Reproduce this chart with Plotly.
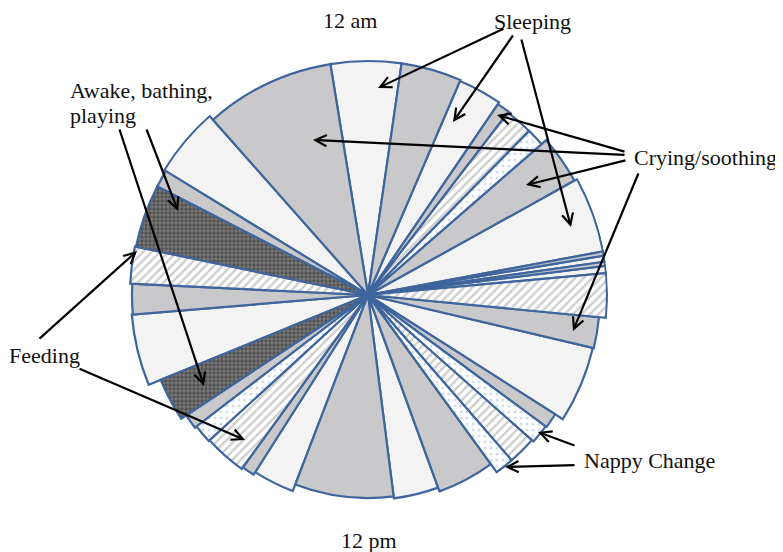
import plotly.graph_objects as go

# ---------------- data ----------------
# activity codes: S=Sleeping, C=Crying/soothing, F=Feeding, N=Nappy Change, A=Awake, bathing, playing
activity_names = {
    "S": "Sleeping",
    "C": "Crying/soothing",
    "F": "Feeding",
    "N": "Nappy Change",
    "A": "Awake, bathing, playing",
}
# slices clockwise from 11:23 pm (minutes before midnight)
start_offset_min = -37
slice_activity = ["S", "C", "S", "C", "F", "N", "C", "S", "C", "S", "C", "S",
                  "F", "C", "S", "C", "N", "F", "N", "C", "S", "C", "S", "C",
                  "F", "N", "C", "A", "S", "C", "F", "A", "C", "S", "C"]
slice_minutes = [70, 60, 44, 13, 28, 18, 48, 74, 4, 6, 4, 7,
                 43, 31, 77, 16, 20, 30, 20, 64, 51, 113, 46, 14,
                 46, 20, 16, 45, 70, 30, 36, 62, 17, 68, 129]
slice_extent = [234, 234, 233, 231, 230, 230, 236, 239, 239, 239, 239, 239,
                239, 232, 231, 222, 221, 219, 219, 209, 205, 203, 210, 213,
                215, 216, 218, 224, 237, 236, 238, 237, 237, 239, 234]
clock_labels = ["12 am", "12 pm"]

# ---------------- layout constants ----------------
PAGE_OFF = 8            # default body margin of the html page
W, H = 783 - PAGE_OFF, 552 - PAGE_OFF
CX, CY = 368 - PAGE_OFF, 295 - PAGE_OFF
RMAX = 240
OUTLINE = "#3f659d"
FONT = "Liberation Serif"
FSIZE = 22

styles = {
    "S": dict(color="#f3f3f3"),
    "C": dict(color="#c9c9cb"),
    "F": dict(color="#ffffff",
              pattern=dict(shape="/", fgcolor="#9c9c9c", bgcolor="#ffffff", size=6, solidity=0.4)),
    "N": dict(color="#ffffff",
              pattern=dict(shape=".", fgcolor="#9fbde3", bgcolor="#ffffff", size=6, solidity=0.2)),
    "A": dict(color="#5e5e5e",
              pattern=dict(shape=".", fgcolor="#2a2a2a", bgcolor="#7a7a7a", size=4, solidity=0.55)),
}

fig = go.Figure()

# slice centres and widths (degrees) from minutes
thetas, widths = [], []
t = start_offset_min
for m in slice_minutes:
    thetas.append((t + m / 2) * 360 / 1440)
    widths.append(m * 360 / 1440)
    t += m

for code in ["S", "C", "F", "N", "A"]:
    idx = [i for i, a in enumerate(slice_activity) if a == code]
    st = styles[code]
    marker = dict(color=st["color"], line=dict(color=OUTLINE, width=2.2))
    if "pattern" in st:
        marker["pattern"] = st["pattern"]
    fig.add_trace(go.Barpolar(
        r=[slice_extent[i] for i in idx],
        theta=[thetas[i] for i in idx],
        width=[widths[i] for i in idx],
        marker=marker,
        name=activity_names[code],
        showlegend=False,
        hoverinfo="skip",
    ))

fig.update_layout(
    width=W, height=H,
    margin=dict(l=0, r=0, t=0, b=0),
    paper_bgcolor="white",
    plot_bgcolor="white",
    polar=dict(
        domain=dict(x=[(CX - RMAX) / W, (CX + RMAX) / W],
                    y=[(H - CY - RMAX) / H, (H - CY + RMAX) / H]),
        bgcolor="rgba(0,0,0,0)",
        barmode="overlay",
        angularaxis=dict(visible=False, direction="clockwise", rotation=90,
                         showgrid=False, showline=False, showticklabels=False),
        radialaxis=dict(visible=False, range=[0, RMAX], showgrid=False,
                        showline=False, showticklabels=False),
    ),
)

# positions below are given in window pixels and shifted by the page margin
def px(x):
    return (x - PAGE_OFF) / W

def py(y):
    return 1 - (y - PAGE_OFF) / H

texts = [
    (clock_labels[0], 350, 20, "center"),
    (clock_labels[1], 369, 540, "center"),
    ("Sleeping", 532, 21, "center"),
    ("Crying/soothing", 632, 157, "left"),
    ("Feeding", 7, 355, "left"),
    ("Nappy Change", 582, 460, "left"),
    ("Awake, bathing,", 68, 90, "left"),
    ("playing", 68, 116, "left"),
]
annotations = []
for txt, x, y, anc in texts:
    annotations.append(dict(text=txt, x=px(x), y=py(y), xref="paper", yref="paper",
                            xanchor=anc, yanchor="middle", showarrow=False,
                            font=dict(family=FONT, size=FSIZE, color="#111111")))

# arrows: (tail_x, tail_y, head_x, head_y)
arrows = [
    (505, 28, 378, 88),
    (514, 34, 453, 122),
    (521, 38, 571, 227),
    (626, 152, 497, 115),
    (626, 155, 313, 140),
    (627, 160, 526, 185),
    (639, 172, 573, 331),
    (146, 128, 178, 211),
    (119, 128, 204, 386),
    (38, 340, 137, 251),
    (78, 368, 245, 440),
    (576, 446, 538, 432),
    (576, 465, 505, 467),
]
for tx, ty, hx, hy in arrows:
    annotations.append(dict(text="", x=px(hx), y=py(hy), xref="paper", yref="paper",
                            ax=tx - hx, ay=ty - hy, axref="pixel", ayref="pixel",
                            showarrow=True, arrowhead=5, arrowsize=1.0, arrowwidth=2.2,
                            arrowcolor="#000000", standoff=0, startstandoff=0))
fig.update_layout(annotations=annotations)

fig.write_html("out.html")
